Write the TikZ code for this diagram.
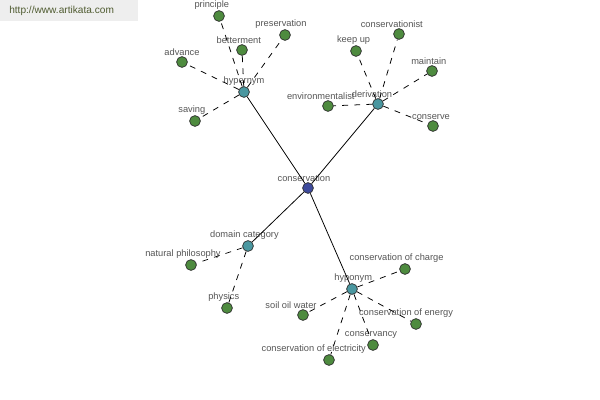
\documentclass[tikz,border=0pt]{standalone}
\usepackage{fontspec}
\setmainfont{Liberation Sans}
\definecolor{leaffill}{HTML}{4E8B3F}
\definecolor{hubfill}{HTML}{4A97A0}
\definecolor{rootfill}{HTML}{3D4A9C}
\definecolor{nodeedge}{HTML}{2B2B2B}
\definecolor{labtext}{HTML}{555555}
\definecolor{wmfill}{HTML}{EEEEEE}
\definecolor{wmtext}{HTML}{4F5B30}

\begin{document}
\begin{tikzpicture}[
  x=0.025cm, y=-0.025cm,
  leaf/.style={circle, draw=nodeedge, fill=leaffill, minimum size=0.27cm, inner sep=0pt, line width=0.5pt},
  hub/.style={leaf, fill=hubfill},
  root/.style={leaf, fill=rootfill},
  lab/.style={font=\fontsize{6.6}{7}\selectfont, text=labtext, inner sep=0.6pt},
  hubline/.style={draw=black, line width=0.55pt},
  leafline/.style={draw=black, line width=0.55pt, dash pattern=on 4.2pt off 4.4pt},
  label distance=0pt,
]
\useasboundingbox (0,0) rectangle (600,400);
\fill[wmfill] (0,0) rectangle (138,21);
\node[anchor=west, text=wmtext, font=\fontsize{7.2}{8}\selectfont, inner sep=0pt] (url) at (9,11) {http://www.artikata.com};

% centre and relation hubs
\node[root, label={[lab, xshift=-0.1cm]above:conservation}] (cons) at (308,188) {};
\node[hub, label={[lab]above:hypernym}] (hypernym) at (244,92) {};
\node[hub, label={[lab, xshift=-0.15cm]above:derivation}] (derivation) at (378,104) {};
\node[hub, label={[lab, xshift=-0.09cm]above:domain category}] (domcat) at (248,246) {};
\node[hub, label={[lab, xshift=0.03cm]above:hyponym}] (hyponym) at (352,289) {};

% hypernym leaves
\node[leaf, label={[lab, xshift=-0.18cm]above:principle}] (principle) at (219,16) {};
\node[leaf, label={[lab, xshift=-0.08cm]above:betterment}] (betterment) at (242,50) {};
\node[leaf, label={[lab, xshift=-0.1cm]above:preservation}] (preservation) at (285,35) {};
\node[leaf, label={[lab]above:advance}] (advance) at (182,62) {};
\node[leaf, label={[lab, xshift=-0.08cm]above:saving}] (saving) at (195,121) {};

% derivation leaves
\node[leaf, label={[lab, xshift=-0.18cm]above:conservationist}] (conservationist) at (399,34) {};
\node[leaf, label={[lab, xshift=-0.06cm]above:keep up}] (keepup) at (356,51) {};
\node[leaf, label={[lab, xshift=-0.08cm]above:maintain}] (maintain) at (432,71) {};
\node[leaf, label={[lab, xshift=-0.18cm]above:environmentalist}] (environmentalist) at (328,106) {};
\node[leaf, label={[lab, xshift=-0.05cm]above:conserve}] (conserve) at (433,126) {};

% domain category leaves
\node[leaf, label={[lab, xshift=-0.2cm]above:natural philosophy}] (natphil) at (191,265) {};
\node[leaf, label={[lab, xshift=-0.08cm]above:physics}] (physics) at (227,308) {};

% hyponym leaves
\node[leaf, label={[lab, xshift=-0.21cm]above:conservation of charge}] (charge) at (405,269) {};
\node[leaf, label={[lab, xshift=-0.3cm]above:soil oil water}] (soilwater) at (303,315) {};
\node[leaf, label={[lab, xshift=-0.25cm]above:conservation of energy}] (energy) at (416,324) {};
\node[leaf, label={[lab, xshift=-0.05cm]above:conservancy}] (conservancy) at (373,345) {};
\node[leaf, label={[lab, xshift=-0.38cm]above:conservation of electricity}] (electricity) at (329,360) {};

\draw[hubline] (cons) -- (hypernym);
\draw[hubline] (cons) -- (derivation);
\draw[hubline] (cons) -- (domcat);
\draw[hubline] (cons) -- (hyponym);

\draw[leafline] (hypernym) -- (principle);
\draw[leafline] (hypernym) -- (betterment);
\draw[leafline] (hypernym) -- (preservation);
\draw[leafline] (hypernym) -- (advance);
\draw[leafline] (hypernym) -- (saving);

\draw[leafline] (derivation) -- (conservationist);
\draw[leafline] (derivation) -- (keepup);
\draw[leafline] (derivation) -- (maintain);
\draw[leafline] (derivation) -- (environmentalist);
\draw[leafline] (derivation) -- (conserve);

\draw[leafline] (domcat) -- (natphil);
\draw[leafline] (domcat) -- (physics);

\draw[leafline] (hyponym) -- (charge);
\draw[leafline] (hyponym) -- (soilwater);
\draw[leafline] (hyponym) -- (energy);
\draw[leafline] (hyponym) -- (conservancy);
\draw[leafline] (hyponym) -- (electricity);
\end{tikzpicture}
\end{document}
